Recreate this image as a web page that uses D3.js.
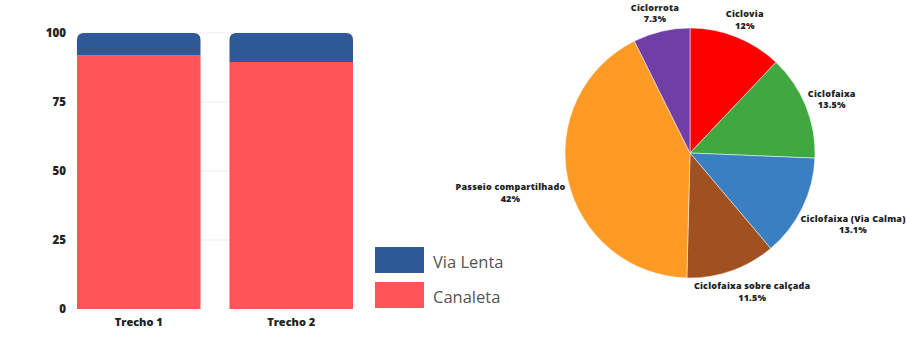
<!DOCTYPE html>
<html>
<head>
<meta charset="utf-8">
<script src="https://cdn.jsdelivr.net/npm/d3@7"></script>
<style>
  body { margin: 0; background: #fff; }
  svg { display: block; font-family: 'Open Sans', sans-serif; }
</style>
</head>
<body>
<svg id="chart" width="906" height="338"></svg>
<script>
// MARK: data

const trechos   = ['Trecho 1', 'Trecho 2']
const canaleta  = [92, 89.5]
const viaLenta  = [8, 10.5]
const yTicks    = [0, 25, 50, 75, 100]

const pieLabels = ['Ciclovia', 'Ciclofaixa', 'Ciclofaixa (Via Calma)', 'Ciclofaixa sobre calçada', 'Passeio compartilhado', 'Ciclorrota']
const pieValues = [12, 13.5, 13.1, 11.5, 42, 7.3]
const pieColors = ['#ff0000', '#3fa83f', '#3a7fc2', '#a0511f', '#ff9a24', '#6f3fa6']

const legendItems  = ['Via Lenta', 'Canaleta']
const legendColors = ['#2d5a96', '#ff5558']

const svg = d3.select('#chart')

// MARK: stacked bars

const x = d3.scaleBand().domain(trechos).range([77, 353]).paddingInner(0.19).paddingOuter(0)
const y = d3.scaleLinear().domain([0, 100]).range([309, 33])

svg.append('g').attr('class', 'grid')
  .selectAll('line').data(yTicks.filter((t) => t > 0)).enter()
  .append('line')
    .attr('x1', 77).attr('x2', 353)
    .attr('y1', (d) => y(d)).attr('y2', (d) => y(d))
    .attr('stroke', '#ececec')
    .attr('stroke-width', 1)

const yAxis = svg.append('g')
  .attr('transform', 'translate(70,0)')
  .call(d3.axisLeft(y).tickValues(yTicks).tickSize(0).tickPadding(4))
yAxis.select('.domain').remove()
yAxis.selectAll('text')
  .attr('font-size', 11.5).attr('font-weight', 800).attr('fill', '#222')
  .attr('font-family', "'Open Sans', sans-serif")

const r = 7
const bars = svg.append('g').attr('class', 'bars')
trechos.forEach((t, i) => {
  const x0 = x(t), w = x.bandwidth()
  bars.append('rect')
    .attr('x', x0).attr('width', w)
    .attr('y', y(canaleta[i])).attr('height', y(0) - y(canaleta[i]))
    .attr('fill', legendColors[1])
  const yt = y(canaleta[i] + viaLenta[i]), yb = y(canaleta[i])
  bars.append('path')
    .attr('d', `M${x0},${yb} L${x0},${yt + r} Q${x0},${yt} ${x0 + r},${yt} L${x0 + w - r},${yt} Q${x0 + w},${yt} ${x0 + w},${yt + r} L${x0 + w},${yb} Z`)
    .attr('fill', legendColors[0])
})

const xAxis = svg.append('g')
  .attr('transform', `translate(0,${y(0)})`)
  .call(d3.axisBottom(x).tickSize(0).tickPadding(9))
xAxis.select('.domain').remove()
xAxis.selectAll('text')
  .attr('font-size', 11).attr('font-weight', 800).attr('fill', '#222')
  .attr('font-family', "'Open Sans', sans-serif")

// MARK: legend

const legend = svg.append('g').attr('transform', 'translate(375,247)')
legendItems.forEach((name, i) => {
  const g = legend.append('g').attr('transform', `translate(0,${i * 35})`)
  g.append('rect').attr('width', 49).attr('height', 26).attr('fill', legendColors[i])
  g.append('text')
    .attr('x', 58).attr('y', 15).attr('dy', '0.35em')
    .attr('font-size', 16.5).attr('fill', '#555')
    .text(name)
})

// MARK: pie

const cx = 690, cy = 153, R = 125
const pie = d3.pie().sort(null).value((d) => d)
const arc = d3.arc().innerRadius(0).outerRadius(R)
const arcs = pie(pieValues)

const pg = svg.append('g').attr('transform', `translate(${cx},${cy})`)
pg.selectAll('path').data(arcs).enter()
  .append('path')
    .attr('d', arc)
    .attr('fill', (d, i) => pieColors[i])
    .attr('stroke', '#fff')
    .attr('stroke-width', 0.5)

// outside labels: box pushed outward from the rim point
const labels = pg.selectAll('g.lbl').data(arcs).enter()
  .append('g').attr('class', 'lbl')
labels.each(function (d, i) {
  const g = d3.select(this)
  const t = g.append('text')
    .attr('text-anchor', 'middle')
    .attr('font-size', 9).attr('font-weight', 800).attr('fill', '#222')
    .attr('letter-spacing', 0.2)
  t.append('tspan').attr('x', 0).attr('dy', 0).text(pieLabels[i])
  t.append('tspan').attr('x', 0).attr('dy', '1.3em').text(pieValues[i] + '%')
  const bb = t.node().getBBox()
  const a = (d.startAngle + d.endAngle) / 2
  const s = Math.sin(a), c = -Math.cos(a)
  const px = (R + 4) * s, py = (R + 4) * c
  const lx = px + s * bb.width / 2
  const ly = py + c * bb.height * 0.6 + (c > 0 ? bb.height * 0.35 * Math.abs(s) : 0)
  g.attr('transform', `translate(${lx},${ly - (bb.y + bb.height / 2)})`)
})
</script>
</body>
</html>
